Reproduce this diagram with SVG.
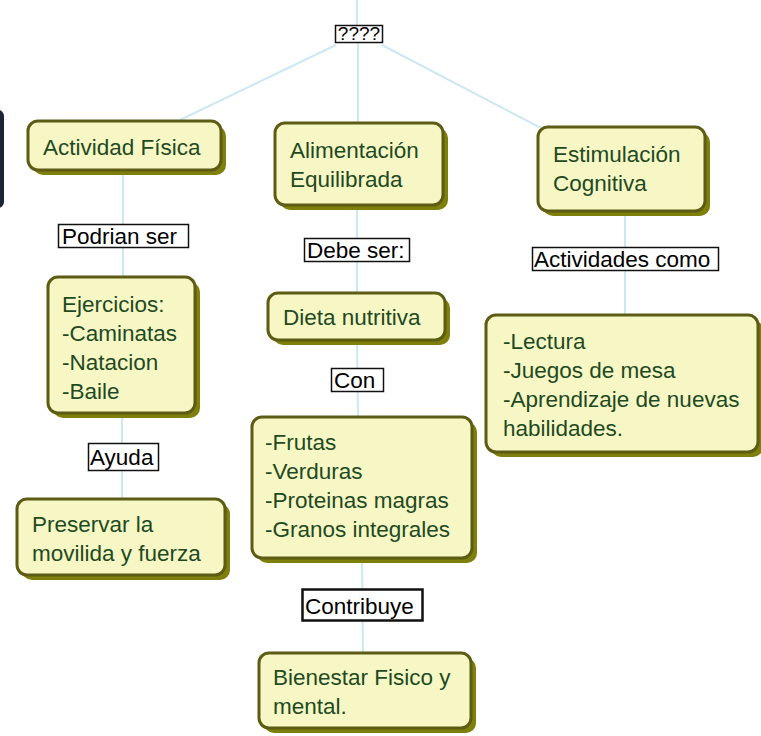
<svg xmlns="http://www.w3.org/2000/svg" width="761" height="736" viewBox="0 0 761 736">
<defs>
<style>
.sh{fill:#7f7f0c;}
.box{fill:#f7f7c6;stroke:#5c5c14;stroke-width:3;}
.nt{font-family:"Liberation Sans",Arial,sans-serif;font-size:22.5px;fill:#1f4a1f;}
.lb{fill:#ffffff;stroke:#111111;stroke-width:1.5;}
.lt{font-family:"Liberation Sans",Arial,sans-serif;font-size:22.5px;fill:#000000;}
.cn{stroke:#cce8f2;stroke-width:2;fill:none;}
</style>
</defs>
<rect width="761" height="736" fill="#ffffff"/>
<rect x="-12" y="110" width="16" height="98" rx="6" fill="#1c2536"/>
<g id="connectors">
<line class="cn" x1="357" y1="0" x2="357" y2="26"/>
<line class="cn" x1="358" y1="42" x2="358" y2="124"/>
<line class="cn" x1="336" y1="45" x2="180" y2="120"/>
<line class="cn" x1="382" y1="45" x2="541" y2="128"/>
<line class="cn" x1="123" y1="170" x2="123" y2="278"/>
<line class="cn" x1="122" y1="413" x2="122" y2="500"/>
<line class="cn" x1="357" y1="205" x2="357" y2="294"/>
<line class="cn" x1="357" y1="340" x2="358" y2="418"/>
<line class="cn" x1="362" y1="558" x2="363" y2="654"/>
<line class="cn" x1="625" y1="211" x2="625" y2="316"/>
</g>
<g id="root-label">
<rect class="lb" x="335.5" y="25.5" width="47" height="17"/>
<text class="lt" x="359" y="40" text-anchor="middle" style="font-size:19px">????</text>
</g>
<g id="actividad-fisica">
<rect class="sh" x="33" y="126" width="193" height="49" rx="10"/>
<rect class="box" x="28" y="121" width="193" height="49" rx="10"/>
<text class="nt" x="43" y="155">Actividad Física</text>
</g>
<g id="alimentacion">
<rect class="sh" x="280" y="128" width="168" height="82" rx="10"/>
<rect class="box" x="275" y="123" width="168" height="82" rx="10"/>
<text class="nt" x="290" y="158">Alimentación</text>
<text class="nt" x="290" y="187">Equilibrada</text>
</g>
<g id="estimulacion">
<rect class="sh" x="543" y="132" width="167" height="84" rx="10"/>
<rect class="box" x="538" y="127" width="167" height="84" rx="10"/>
<text class="nt" x="553" y="162">Estimulación</text>
<text class="nt" x="553" y="191">Cognitiva</text>
</g>
<g id="label-podrian">
<rect class="lb" x="58.5" y="224.5" width="130" height="23"/>
<text class="lt" x="62" y="244">Podrian ser</text>
</g>
<g id="label-debe">
<rect class="lb" x="304.5" y="238.5" width="105" height="23"/>
<text class="lt" x="307" y="258">Debe ser:</text>
</g>
<g id="label-actividades">
<rect class="lb" x="532.5" y="247.5" width="186" height="23"/>
<text class="lt" x="534" y="267">Actividades como</text>
</g>
<g id="ejercicios">
<rect class="sh" x="53" y="282" width="147" height="136" rx="10"/>
<rect class="box" x="48" y="277" width="147" height="136" rx="10"/>
<text class="nt" x="62" y="312">Ejercicios:</text>
<text class="nt" x="62" y="341">-Caminatas</text>
<text class="nt" x="62" y="370">-Natacion</text>
<text class="nt" x="62" y="399">-Baile</text>
</g>
<g id="dieta">
<rect class="sh" x="273" y="298" width="177" height="47" rx="10"/>
<rect class="box" x="268" y="293" width="177" height="47" rx="10"/>
<text class="nt" x="283" y="325">Dieta nutritiva</text>
</g>
<g id="label-con">
<rect class="lb" x="331.5" y="368.5" width="52" height="23"/>
<text class="lt" x="334" y="388">Con</text>
</g>
<g id="lectura">
<rect class="sh" x="491" y="320" width="272" height="137" rx="10"/>
<rect class="box" x="486" y="315" width="272" height="137" rx="10"/>
<text class="nt" x="503" y="349">-Lectura</text>
<text class="nt" x="503" y="378">-Juegos de mesa</text>
<text class="nt" x="503" y="407">-Aprendizaje de nuevas</text>
<text class="nt" x="503" y="436">habilidades.</text>
</g>
<g id="label-ayuda">
<rect class="lb" x="88.5" y="443.5" width="70" height="27"/>
<text class="lt" x="90" y="465">Ayuda</text>
</g>
<g id="frutas">
<rect class="sh" x="257" y="422" width="220" height="141" rx="10"/>
<rect class="box" x="252" y="417" width="220" height="141" rx="10"/>
<text class="nt" x="265" y="450">-Frutas</text>
<text class="nt" x="265" y="479">-Verduras</text>
<text class="nt" x="265" y="508">-Proteinas magras</text>
<text class="nt" x="265" y="537">-Granos integrales</text>
</g>
<g id="preservar">
<rect class="sh" x="22" y="504" width="208" height="76" rx="10"/>
<rect class="box" x="17" y="499" width="208" height="76" rx="10"/>
<text class="nt" x="32" y="532">Preservar la</text>
<text class="nt" x="32" y="561">movilida y fuerza</text>
</g>
<g id="label-contribuye">
<rect x="302.5" y="589.5" width="120" height="31" fill="#ffffff" stroke="#111111" stroke-width="2.5"/>
<text class="lt" x="305" y="614">Contribuye</text>
</g>
<g id="bienestar">
<rect class="sh" x="264" y="658" width="212" height="75" rx="10"/>
<rect class="box" x="259" y="653" width="212" height="75" rx="10"/>
<text class="nt" x="273" y="685">Bienestar Fisico y</text>
<text class="nt" x="273" y="714">mental.</text>
</g>
</svg>
